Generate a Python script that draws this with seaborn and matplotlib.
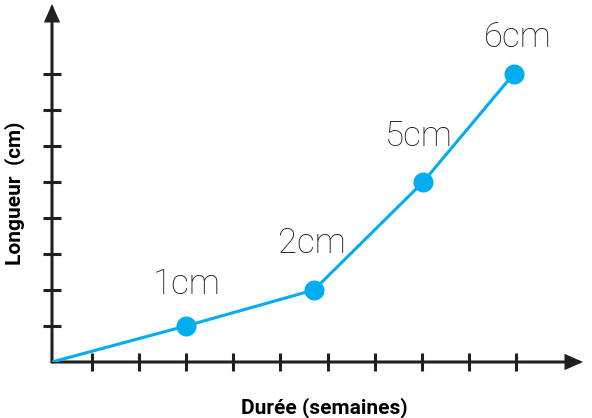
import matplotlib
matplotlib.use("Agg")
import matplotlib.pyplot as plt
import seaborn as sns
import pandas as pd

# ---- data ----
weeks = [0, 2.84, 5.56, 7.88, 9.8]          # x positions (tick units)
length = [0, 1, 2, 5, 8]                    # y positions (tick units)
point_labels = ["", "1cm", "2cm", "5cm", "6cm"]
x_ticks = [0.85 + i for i in range(10)]
y_ticks = [1, 2, 3, 4, 5, 6, 7, 8]
x_label = "Durée (semaines)"
y_label = "Longueur  (cm)"

# label offsets in points (style)
label_dx = [0, 1, -1.4, -2.9, 2.9]
label_dy = [0, 23, 26.6, 26, 19.4]

AXC = "#231F20"
LINEC = "#00AEEF"

sns.set_theme(style="white")
plt.rcParams["font.family"] = ["Roboto", "DejaVu Sans"]

fig = plt.figure(figsize=(5.92, 4.18), dpi=100)
W, H = 592, 418
x0, y0, x1, y1 = 52, 362, 583, 4
ax = fig.add_axes([x0 / W, (H - y0) / H, (x1 - x0) / W, (y0 - y1) / H])
ax.set_xlim(0, (x1 - x0) / 47.1)
ax.set_ylim(0, (y0 - y1) / 36.0)

df = pd.DataFrame({"x": weeks, "y": length})
sns.lineplot(data=df, x="x", y="y", ax=ax, color=LINEC, linewidth=2.2,
             sort=False, zorder=3)
sns.scatterplot(data=df.iloc[1:], x="x", y="y", ax=ax, color=LINEC, s=14.4 ** 2,
                linewidth=0, zorder=4)

for spine in ax.spines.values():
    spine.set_visible(False)

arrow_style = dict(arrowstyle="-|>,head_length=0.95,head_width=0.42",
                   mutation_scale=10, lw=2.2, color=AXC,
                   shrinkA=0, shrinkB=0, joinstyle="miter")
ax.annotate("", xy=(1, 0), xytext=(0, 0), xycoords="axes fraction",
            arrowprops=arrow_style, zorder=2)
ax.annotate("", xy=(0, 1), xytext=(0, 0), xycoords="axes fraction",
            arrowprops=arrow_style, zorder=2)

ax.set_xticks(x_ticks)
ax.set_yticks(y_ticks)
ax.tick_params(axis="both", direction="inout", length=13, width=2.2,
               color=AXC, labelbottom=False, labelleft=False,
               bottom=True, left=True)

lab_font = dict(family=["Roboto", "DejaVu Sans"],
                weight="bold", size=15, color="black")
ax.set_xlabel(x_label, **lab_font)
ax.set_ylabel(y_label, **lab_font)
ax.xaxis.label.set_va("baseline")
ax.yaxis.label.set_va("baseline")
ax.xaxis.set_label_coords((324 - x0) / (x1 - x0), (y0 - 413) / (y0 - y1))
ax.yaxis.set_label_coords((20 - x0) / (x1 - x0), (y0 - 193) / (y0 - y1))

for xv, yv, t, dx, dy in zip(weeks, length, point_labels, label_dx, label_dy):
    if t:
        ax.annotate(t, (xv, yv), xytext=(dx, dy), textcoords="offset points",
                    ha="center", va="baseline", fontsize=25, weight="light",
                    family=["Roboto", "DejaVu Sans"], color="#231F20")

fig.savefig("out.png", dpi=100)
